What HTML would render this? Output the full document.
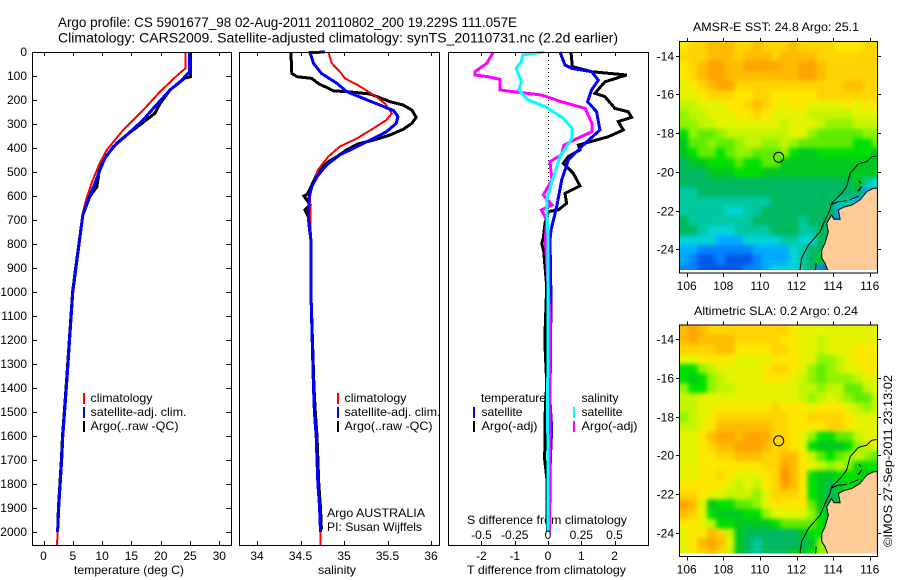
<!DOCTYPE html>
<html>
<head>
<meta charset="utf-8">
<title>Argo profile</title>
<style>
html,body{margin:0;padding:0;background:#fff;width:900px;height:580px;overflow:hidden}
svg{display:block}
text{font-family:"Liberation Sans",sans-serif;font-size:12px;fill:#000}
.t14{font-size:14px}
.ln{fill:none;shape-rendering:crispEdges;stroke-linejoin:miter}
</style>
</head>
<body>
<svg id="chart" xmlns="http://www.w3.org/2000/svg" width="900" height="580" viewBox="0 0 900 580">
  <defs>
    <filter id="field-soften" x="-10%" y="-10%" width="120%" height="120%" color-interpolation-filters="sRGB">
      <feGaussianBlur stdDeviation="2"/>
    </filter>
  </defs>
  <text class="t14" x="58" y="27" textLength="459" lengthAdjust="spacingAndGlyphs">Argo profile: CS 5901677_98 02-Aug-2011 20110802_200 19.229S 111.057E</text>
  <text class="t14" x="58" y="42.5" textLength="560" lengthAdjust="spacingAndGlyphs">Climatology: CARS2009. Satellite-adjusted climatology: synTS_20110731.nc (2.2d earlier)</text>
  <text x="74" y="574" textLength="110" lengthAdjust="spacingAndGlyphs">temperature (deg C)</text>
  <text x="318" y="574" textLength="38" lengthAdjust="spacingAndGlyphs">salinity</text>
  <text x="467" y="524" textLength="160" lengthAdjust="spacingAndGlyphs">S difference from climatology</text>
  <text x="467" y="574" textLength="159" lengthAdjust="spacingAndGlyphs">T difference from climatology</text>
  <text x="327" y="517" textLength="98" lengthAdjust="spacingAndGlyphs">Argo AUSTRALIA</text>
  <text x="327" y="531" textLength="95" lengthAdjust="spacingAndGlyphs">PI: Susan Wijffels</text>
  <text x="693" y="31" textLength="166" lengthAdjust="spacingAndGlyphs">AMSR-E SST: 24.8 Argo: 25.1</text>
  <text x="694" y="315" textLength="164" lengthAdjust="spacingAndGlyphs">Altimetric SLA: 0.2 Argo: 0.24</text>
  <text transform="translate(892,547) rotate(-90)" x="0" y="0" textLength="172" lengthAdjust="spacingAndGlyphs">©IMOS 27-Sep-2011 23:13:02</text>
</svg>
<script>
// ---------- profile data: [depth (m), value] ----------
var tempDepths = [0,67,100,165,242,325,408,463,546,617,680,908,1000,1367,1500,1600,1700,1800,1900,2000,2054];
var tempClim = [24.27,24.27,22.7,19.9,17,13.6,10.8,9.6,8.2,7.25,6.6,5.5,5.0,3.96,3.55,3.2,3.05,2.8,2.6,2.4,2.3];
var tempSatDepths = [0,82,117,158,228,283,353,395,443,492,546,617,680,908,1000,1367,1500,1600,1700,1800,1900,2000];
var tempSat = [24.9,24.9,23.6,21.6,19,17,13.9,11.9,10.5,9.6,8.8,7.6,6.7,5.5,5.0,4.0,3.6,3.3,3.1,2.85,2.6,2.4];
var tempArgoDepths = [0,103,109,158,214,256,297,346,380,430,479,562,603,680,908,1000,1367,1500,1600,1700,1800,1900,1990];
var tempArgo = [25.1,25.1,24.1,21.6,19.9,19,16.8,14.2,12.5,10.8,9.6,9.1,7.9,6.7,5.45,4.97,3.95,3.55,3.25,3.05,2.8,2.55,2.42];

var salDepths = [0,47,89,110,138,179,214,256,283,318,360,394,436,492,561,603,783,1000,1400,1500,1600,1700,1800,1900,2000,2054];
var salClim = [34.82,34.86,34.97,35.01,35.16,35.34,35.47,35.55,35.49,35.34,35.15,34.95,34.82,34.70,34.63,34.61,34.62,34.62,34.65,34.66,34.68,34.69,34.70,34.72,34.73,34.73];
var salSatDepths = [0,3,47,89,131,165,193,221,244,269,297,332,360,394,429,471,519,561,603,686,783,1000,1400,1500,1600,1700,1800,1900,2000];
var salSat = [34.78,34.61,34.65,34.74,34.92,35.03,35.22,35.41,35.57,35.62,35.60,35.49,35.34,35.15,34.95,34.80,34.69,34.63,34.60,34.59,34.62,34.62,34.65,34.66,34.68,34.69,34.70,34.72,34.73];
var salArgoDepths = [0,89,103,110,133,151,162,165,175,207,221,242,272,297,322,346,367,383,408,436,457,499,554,592,600,637,658,686,728,783,1000,1400,1500,1600,1700,1800,1900,1990];
var salArgo = [34.39,34.40,34.46,34.63,34.71,34.82,34.88,35.03,35.30,35.53,35.68,35.78,35.83,35.78,35.68,35.53,35.34,35.16,35.03,34.92,34.82,34.70,34.63,34.58,34.54,34.61,34.55,34.59,34.60,34.62,34.62,34.655,34.67,34.69,34.70,34.71,34.73,34.74];

var dTempSatDepths = [0,54,68,82,117,158,207,249,325,381,450,533,644,742,783,1033,1151,1450,1570,1700,1900,2000];
var dTempSat = [0.36,0.51,0.71,1.31,1.51,1.31,1.19,1.46,1.56,1.11,0.61,0.41,0.26,0.09,0.06,0.09,0.08,0.06,0.11,0.07,0.05,0.05];
var dTempArgoDepths = [0,61,82,96,124,172,186,235,249,272,290,325,353,388,408,436,464,506,558,589,631,658,665,714,776,797,830,978,1170,1226,1380,1519,1700,1783,2000];
var dTempArgo = [0.69,0.73,1.31,2.36,1.71,1.41,1.71,2.01,2.41,2.51,2.11,2.26,1.81,0.91,0.96,0.61,0.46,0.76,0.96,0.51,0.56,0.31,0.01,-0.09,-0.14,-0.19,-0.13,-0.04,-0.09,-0.09,-0.04,-0.09,-0.1,-0.03,-0.02];
var dSalArgoDepths = [0,47,82,96,103,114,158,165,179,207,235,297,332,360,388,429,457,533,596,637,658,700,783,1100,1500,1800,2000];
var dSalArgo = [-0.41,-0.46,-0.55,-0.55,-0.45,-0.36,-0.36,-0.27,-0.05,0.10,0.28,0.33,0.33,0.22,0.12,0.10,0.015,0.03,-0.035,0.03,-0.05,-0.01,-0.02,0.015,0.015,0.01,0.01];
var dSalSatDepths = [0,12,40,68,124,158,200,228,276,318,360,436,540,617,783,1500,2000];
var dSalSat = [-0.03,-0.19,-0.20,-0.24,-0.20,-0.22,-0.15,-0.02,0.115,0.18,0.18,0.09,0.03,-0.01,0,-0.002,0];

// ---------- axis tick labels ----------
var depthTicks = [0,100,200,300,400,500,600,700,800,900,1000,1100,1200,1300,1400,1500,1600,1700,1800,1900,2000];
var tempTicks = [0,5,10,15,20,25,30];
var salTicks = [34,34.5,35,35.5,36];
var dTempTicks = [-2,-1,0,1,2];
var dSalTicks = [-0.5,-0.25,0,0.25,0.5];
var lonTicks = [106,108,110,112,114,116];
var latTicks = [-14,-16,-18,-20,-22,-24];

// ---------- map data: colour-level grids, 0.5 degree cells, north to south ----------
var sstLevels = [
[12,13,13,14,14,14,13,13,14,13,13,13,14,13,13,13,13,12,12,12,13,13],
[13,13,13,14,14,14,13,14,14,14,13,14,14,14,14,13,13,13,13,13,13,13],
[12,13,14,15,15,14,14,15,15,15,15,14,14,15,15,14,13,13,13,13,13,13],
[12,13,14,15,15,14,14,14,14,14,14,14,14,15,15,14,13,13,13,13,13,13],
[11,12,13,14,15,15,13,13,13,13,13,13,13,13,13,13,13,13,14,14,13,13],
[11,11,12,13,13,13,12,12,13,13,12,12,12,12,12,13,13,13,13,13,13,13],
[10,10,11,11,11,12,12,13,14,13,12,11,12,12,11,11,11,11,12,11,12,12],
[9,10,10,11,11,11,12,12,13,12,11,11,11,11,10,10,10,10,10,11,11,11],
[9,9,10,10,11,11,11,11,11,11,11,10,11,11,11,10,9,9,9,10,10,10],
[7,9,8,8,9,10,10,10,10,10,10,10,11,11,9,8,8,8,8,8,9,9],
[6,8,8,9,8,8,9,10,10,9,9,10,9,8,8,8,8,8,8,7,7,8],
[6,7,8,8,7,8,9,9,8,8,8,9,7,6,6,7,7,7,7,7,7,6],
[5,6,6,7,7,7,8,7,7,8,8,6,6,6,6,6,6,6,6,6,6,6],
[5,5,5,6,6,6,7,7,7,6,6,6,6,6,6,6,6,6,6,6,6,6],
[5,5,5,5,5,5,5,5,5,5,5,5,5,5,5,5,5,5,5,6,4,3],
[4,4,5,5,5,5,5,5,5,5,5,5,5,5,5,5,5,5,5,5,2,3],
[4,4,4,4,4,4,4,4,4,4,5,5,5,5,5,5,5,4,4,2,2,2],
[4,4,4,4,4,3,3,4,4,5,5,5,5,5,5,5,5,2,4,4,4,4],
[5,4,4,4,4,4,4,4,5,5,5,5,5,4,5,5,5,1,4,4,4,4],
[5,5,4,3,3,3,4,4,4,4,5,5,5,4,4,5,5,5,4,4,4,4],
[3,3,3,3,2,2,2,3,3,3,3,4,4,3,3,5,5,5,4,4,4,4],
[2,2,1,1,1,1,1,1,2,2,2,2,3,4,5,5,5,5,5,5,5,5],
[2,1,0,0,1,0,0,0,1,2,2,2,3,4,5,6,5,5,5,5,5,5],
[1,1,0,0,0,0,0,1,1,2,3,3,3,4,5,1,0,4,4,4,4,4]
];
var slaLevels = [
[14,15,14,13,13,13,13,13,13,13,13,13,12,11,11,11,11,11,11,11,11,11],
[14,15,14,14,14,14,13,13,13,13,13,12,12,11,11,10,11,11,11,11,11,11],
[13,13,13,13,14,14,12,12,12,12,13,13,12,11,11,10,11,11,11,12,12,12],
[11,11,12,12,12,12,11,11,11,11,12,12,12,11,11,9,9,10,11,12,12,12],
[7,7,9,10,11,11,11,11,11,12,13,13,12,11,9,8,9,10,11,11,12,12],
[7,6,7,9,10,11,11,11,11,12,12,12,11,10,9,8,9,9,9,10,11,11],
[9,7,7,9,10,10,11,11,11,11,11,11,11,10,10,9,10,10,8,8,10,11],
[10,10,11,11,11,11,11,11,11,11,11,11,11,10,9,10,11,10,9,8,8,10],
[10,10,11,11,12,12,12,12,12,12,13,12,12,12,11,12,12,12,11,10,9,10],
[9,10,11,12,13,13,13,13,13,13,13,13,12,12,13,13,13,13,12,11,11,11],
[10,10,11,12,14,14,14,14,14,14,13,13,12,12,12,12,13,13,12,11,11,11],
[11,11,12,14,15,15,14,15,15,15,13,13,12,11,9,7,7,8,8,10,11,11],
[11,11,12,13,14,14,15,15,15,14,13,13,12,11,7,6,6,6,7,9,10,11],
[11,11,12,12,13,13,14,14,14,13,13,14,14,12,10,8,7,8,9,10,9,8],
[11,11,12,12,12,12,12,12,12,13,13,15,14,12,11,10,9,10,9,7,7,7],
[11,11,12,12,13,12,11,11,11,12,13,16,14,12,7,6,6,7,7,7,6,6],
[12,12,12,12,12,11,10,11,10,12,13,15,14,12,7,6,5,6,7,7,7,7],
[13,13,12,11,11,10,10,10,9,11,13,13,13,12,7,6,5,6,8,8,8,8],
[15,14,11,6,7,7,8,8,9,11,12,12,12,12,8,6,5,6,7,7,7,7],
[14,13,11,7,6,6,6,7,7,9,11,11,11,11,9,7,5,5,7,7,7,7],
[12,12,11,10,7,7,6,6,6,6,7,8,8,8,8,7,5,6,7,7,7,7],
[11,12,12,14,13,10,6,5,5,5,5,5,5,6,7,7,6,7,8,8,8,8],
[11,12,14,15,14,11,6,5,4,5,5,5,5,5,6,9,8,8,8,8,8,8],
[11,12,13,14,13,10,6,5,4,5,5,5,6,6,7,9,9,9,9,9,9,9]
];
// coast and shelf outlines [lon, lat]
var landOutline = [[116.42,-20.85],[116.2,-20.85],[115.84,-21.02],[115.47,-21.45],[115.02,-21.71],[114.56,-21.83],[114.29,-21.97],[114.38,-22.45],[114.05,-22.45],[113.92,-22.23],[113.65,-22.66],[113.74,-23.09],[113.56,-23.69],[113.38,-24.03],[113.38,-24.46],[113.56,-24.72],[113.74,-25.15],[113.83,-25.24],[116.42,-25.24]];
var shelfContour = [[116.38,-19.18],[116.11,-19.22],[115.84,-19.47],[115.38,-19.59],[114.93,-20.07],[114.74,-20.76],[114.47,-21.11],[113.92,-21.62],[113.83,-21.97],[113.56,-22.49],[113.29,-23.09],[112.65,-23.78],[112.28,-24.46],[112.19,-25.07]];
var innerContourA = [[113.92,-21.68],[114.25,-21.55],[114.75,-21.5]];
var innerContourB = [[114.9,-21.45],[115.4,-21.25]];
var innerContourC = [[113.07,-24.72],[113.03,-25.2]];
var islandA = [[115.35,-21.0],[115.55,-20.75],[115.45,-20.95],[115.35,-21.0]];
var islandB = [[115.42,-20.45],[115.5,-20.6]];
var floatPosition = [111.03,-19.25];

// ---------- helpers ----------
var svg = document.getElementById('chart');
var NS = 'http://www.w3.org/2000/svg';
function mk(tag, attrs, name, parent) {
  var el = document.createElementNS(NS, tag);
  for (var k in attrs) el.setAttribute(k, attrs[k]);
  
  
  (parent || svg).appendChild(el);
  return el;
}
function txt(x, y, s, anchor, name, len) {
  var a = {x: x, y: y, 'text-anchor': anchor || 'start'};
  if (len) { a.textLength = len; a.lengthAdjust = 'spacingAndGlyphs'; }
  var el = mk('text', a, name);
  el.textContent = s;
  return el;
}
function seg(x1, y1, x2, y2, name, parent) {
  return mk('line', {x1: x1, y1: y1, x2: x2, y2: y2, stroke: '#000', 'stroke-width': 1, 'shape-rendering': 'crispEdges'}, name, parent);
}

// ---------- axes scales ----------
var TOP = 52, BOTTOM = 545;
function yD(d) { return TOP + 0.24 * d; }
function xT(v) { return 43.5 + v * 5.86; }
function xS(v) { return 257 + (v - 34) * 87; }
function xDT(v) { return 548 + v * 33.3; }
function xDS(v) { return 548 + v * 133; }

function curve(depths, vals, sx, color, w, name) {
  var p = depths.map(function (d, i) { return sx(vals[i]).toFixed(1) + ',' + yD(d).toFixed(1); }).join(' ');
  return mk('polyline', {points: p, stroke: color, 'stroke-width': w, 'class': 'ln'}, name);
}
function frame(x1, x2, name) {
  return mk('rect', {x: x1, y: TOP + 0.5, width: x2 - x1, height: BOTTOM - TOP, fill: 'none', stroke: '#000', 'stroke-width': 1, 'shape-rendering': 'crispEdges'}, name);
}
function xTicks(vals, sx, prefix) {
  vals.forEach(function (v) {
    var x = Math.round(sx(v)) + 0.5;
    seg(x, TOP, x, TOP + 4, prefix + '-top-tick');
    seg(x, BOTTOM - 4, x, BOTTOM, prefix + '-bottom-tick');
    txt(sx(v), 560, String(v), 'middle', prefix + '-tick-label');
  });
}
function swatch(x, y, color, name) {
  return mk('rect', {x: x, y: y, width: 2, height: 11, fill: color}, name);
}

// panel 1: temperature
curve(tempArgoDepths, tempArgo, xT, '#000', 3, 'temperature-argo-line');
curve(tempDepths, tempClim, xT, '#ff0000', 2, 'temperature-climatology-line');
curve(tempSatDepths, tempSat, xT, '#0000ff', 3, 'temperature-satellite-line');
frame(32.5, 231.5, 'temperature-panel-frame');
xTicks(tempTicks, xT, 'temperature');
depthTicks.forEach(function (d) {
  var y = Math.round(yD(d)) + 0.5;
  seg(32, y, 37, y, 'depth-left-tick');
  seg(226, y, 231, y, 'depth-right-tick');
  txt(27, y + 3.5, String(d), 'end', 'depth-tick-label');
});

// panel 2: salinity
curve(salArgoDepths, salArgo, xS, '#000', 3, 'salinity-argo-line');
curve(salDepths, salClim, xS, '#ff0000', 2, 'salinity-climatology-line');
curve(salSatDepths, salSat, xS, '#0000ff', 3, 'salinity-satellite-line');
frame(239.5, 439.5, 'salinity-panel-frame');
xTicks(salTicks, xS, 'salinity');

// panel 3: differences
mk('line', {x1: 548.5, y1: TOP, x2: 548.5, y2: 400, stroke: '#000', 'stroke-width': 1, 'stroke-dasharray': '1 3', 'shape-rendering': 'crispEdges'}, 'zero-reference-line');
curve(dTempArgoDepths, dTempArgo, xDT, '#000', 3, 'difference-temperature-argo-line');
curve(dTempSatDepths, dTempSat, xDT, '#0000ff', 3, 'difference-temperature-satellite-line');
curve(dSalArgoDepths, dSalArgo, xDS, '#ff00ff', 3, 'difference-salinity-argo-line');
curve(dSalSatDepths, dSalSat, xDS, '#00ffff', 3, 'difference-salinity-satellite-line');
frame(448.5, 648.5, 'difference-panel-frame');
xTicks(dTempTicks, xDT, 't-difference');
dSalTicks.forEach(function (v) {
  txt(xDS(v), 539, String(v), 'middle', 's-difference-tick-label');
});

// legends
var legendSwatchY = [393, 407, 421];
var legendTextY = [402, 416, 430];
var legend1 = ['climatology', 'satellite-adj. clim.', 'Argo(..raw -QC)'];
var legend1Widths = [62, 96, 88];
var legend1Colors = ['#ff0000', '#0000ff', '#000000'];
[[83, 90.5], [337, 344.5]].forEach(function (pos) {
  legend1.forEach(function (s, i) {
    swatch(pos[0], legendSwatchY[i], legend1Colors[i], 'legend-swatch');
    txt(pos[1], legendTextY[i], s, 'start', 'legend-label', legend1Widths[i]);
  });
});
txt(481, 402, 'temperature', 'start', 'legend-heading-temperature', 65);
txt(581.5, 402, 'salinity', 'start', 'legend-heading-salinity', 37);
swatch(473, 407, '#0000ff', 'legend-swatch-t-satellite');
txt(481.5, 416, 'satellite', 'start', 'legend-label', 41);
swatch(473, 421, '#000000', 'legend-swatch-t-argo');
txt(481.5, 430, 'Argo(-adj)', 'start', 'legend-label', 56);
swatch(573, 407, '#00ffff', 'legend-swatch-s-satellite');
txt(581.5, 416, 'satellite', 'start', 'legend-label', 41);
swatch(573, 421, '#ff00ff', 'legend-swatch-s-argo');
txt(581.5, 430, 'Argo(-adj)', 'start', 'legend-label', 56);

// ---------- maps ----------
var palette = ['#0058e8','#0084ff','#00acff','#00d4d8','#00c8a0','#00b860','#00c820','#00e000','#60ec00','#90f400','#c4f400','#e4f400','#ffe800','#ffd400','#ffbc00','#ffa400','#ff9000'];
function lonX(lon) { return 686.7 + (lon - 106) * 18.3; }
function latY(lat, off) { return off + 55.7 + (-14 - lat) * 19.36; }
function path(pts, off) {
  return pts.map(function (p) { return lonX(p[0]).toFixed(1) + ',' + latY(p[1], off).toFixed(1); }).join(' ');
}
function drawMap(levels, off, prefix) {
  var clipId = prefix + '-clip';
  var clip = mk('clipPath', {id: clipId}, prefix + '-clip-region');
  mk('rect', {x: 679.5, y: off + 41.5, width: 197.5, height: 228.5}, prefix + '-clip-rect', clip);
  var g = mk('g', {'clip-path': 'url(#' + clipId + ')'}, prefix + '-field');
  var cells = mk('g', {filter: 'url(#field-soften)'}, prefix + '-cells', g);
  var lastRow = levels.length - 1;
  levels.forEach(function (row, r) {
    var lastCol = row.length - 1;
    row.forEach(function (v, c) {
      var x0 = lonX(105.6 + 0.5 * c), y0 = latY(-13.28 - 0.5 * r, off);
      var w = 9.7, h = 10.2;
      if (c === 0) { x0 -= 12; w += 12; }
      if (c === lastCol) { w += 12; }
      if (r === 0) { y0 -= 12; h += 12; }
      if (r === lastRow) { h += 12; }
      mk('rect', {x: x0.toFixed(1), y: y0.toFixed(1), width: w, height: h, fill: palette[v], 'shape-rendering': 'crispEdges'}, prefix + '-cell', cells);
    });
  });
  mk('polygon', {points: path(landOutline, off), fill: '#ffcc99', stroke: '#000', 'stroke-width': 1}, prefix + '-land', g);
  [shelfContour, innerContourA, innerContourB, innerContourC, islandA, islandB].forEach(function (pts) {
    mk('polyline', {points: path(pts, off), fill: 'none', stroke: '#000', 'stroke-width': 1}, prefix + '-coast-contour', g);
  });
  mk('circle', {cx: lonX(floatPosition[0]).toFixed(1), cy: latY(floatPosition[1], off).toFixed(1), r: 5, fill: 'none', stroke: '#000', 'stroke-width': 1}, prefix + '-float-marker');
  mk('rect', {x: 679.5, y: off + 41.5, width: 198, height: 231.5, fill: 'none', stroke: '#000', 'stroke-width': 1, 'shape-rendering': 'crispEdges'}, prefix + '-frame');
  lonTicks.forEach(function (lon) {
    var x = Math.round(lonX(lon)) + 0.5;
    seg(x, off + 38, x, off + 41, prefix + '-lon-top-tick');
    seg(x, off + 273, x, off + 277, prefix + '-lon-bottom-tick');
    txt(lonX(lon), off + 290, String(lon), 'middle', prefix + '-lon-label');
  });
  latTicks.forEach(function (lat) {
    var y = Math.round(latY(lat, off)) + 0.5;
    seg(676, y, 679, y, prefix + '-lat-left-tick');
    seg(878, y, 881, y, prefix + '-lat-right-tick');
    txt(674, y + 4, String(lat), 'end', prefix + '-lat-label');
  });
}
drawMap(sstLevels, 0, 'sst-map');
drawMap(slaLevels, 283.5, 'sla-map');
</script>
</body>
</html>
